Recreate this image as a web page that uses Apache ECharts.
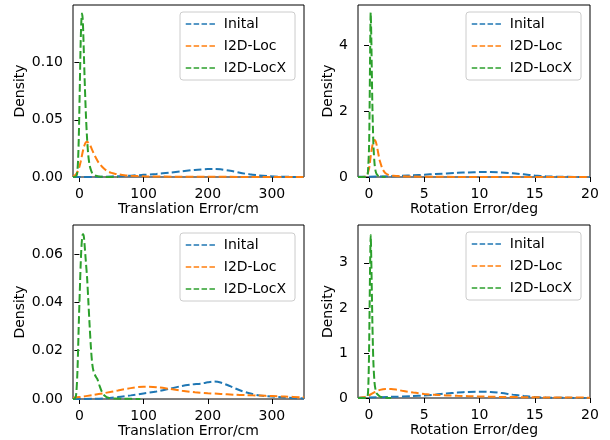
<!DOCTYPE html>
<html>
<head>
<meta charset="utf-8">
<script src="https://cdn.jsdelivr.net/npm/echarts@6/dist/echarts.min.js"></script>
<style>
html,body{margin:0;padding:0;background:#fff;}
#c{width:610px;height:440px;}
</style>
</head>
<body>
<div id="c"></div>
<script>
// ---- data ([x, density]) ----
const seriesNames = ["Inital", "I2D-Loc", "I2D-LocX"];

// Top-left: translation (set 1)
const tlInit = [[-10,0],[20,0.0001],[40,0.0003],[60,0.0007],[80,0.0012],[100,0.0019],[120,0.0027],[140,0.0038],[160,0.005],[180,0.0062],[200,0.0069],[210,0.007],[220,0.0067],[235,0.0055],[250,0.0037],[265,0.0024],[280,0.0014],[295,0.0007],[310,0.0003],[330,0.0001],[350,0]];
const tlLoc = [[-10,0.0003],[-8,0.001],[-6,0.002],[-4,0.0035],[-2,0.0058],[0,0.009],[2,0.0135],[4,0.019],[6,0.024],[8,0.028],[10,0.0302],[12,0.0308],[14,0.030],[16,0.0285],[18,0.0262],[20,0.0235],[25,0.0175],[30,0.0125],[35,0.0092],[40,0.0065],[45,0.0047],[50,0.0036],[55,0.0029],[60,0.0024],[70,0.0016],[80,0.0011],[100,0.0006],[150,0.0003],[200,0.0002],[250,0.0001],[350,0]];
const tlLocX = [[-10,0],[-6,0.0003],[-4,0.002],[-3,0.006],[-2,0.016],[-1,0.034],[0,0.061],[1,0.091],[2,0.119],[3,0.136],[4,0.143],[5,0.139],[6,0.126],[7,0.107],[8,0.088],[10,0.056],[12,0.033],[14,0.018],[16,0.01],[18,0.006],[20,0.0035],[24,0.0015],[30,0.0005],[40,0.0001],[60,0]];

// Top-right: rotation (set 1)
const trInit = [[-1,0.004],[0,0.008],[2,0.025],[3,0.035],[4,0.05],[5,0.07],[6,0.09],[8,0.125],[9,0.14],[10,0.148],[11,0.148],[12,0.138],[13,0.115],[14,0.08],[15,0.045],[16,0.02],[17,0.009],[18,0.004],[20,0.001]];
const trLoc = [[-1,0],[-0.4,0.01],[-0.2,0.06],[0,0.25],[0.1,0.5],[0.2,0.75],[0.3,0.95],[0.4,1.08],[0.5,1.12],[0.6,1.08],[0.7,0.95],[0.8,0.78],[0.9,0.6],[1.0,0.46],[1.2,0.26],[1.4,0.15],[1.6,0.09],[1.8,0.06],[2.2,0.035],[3,0.02],[4,0.012],[6,0.006],[10,0.002],[20,0]];
const trLocX = [[-1,0],[-0.3,0],[-0.15,0.05],[-0.1,0.15],[0,0.9],[0.05,2.1],[0.1,3.8],[0.15,4.98],[0.2,4.3],[0.25,3.2],[0.3,2.2],[0.35,1.5],[0.4,0.95],[0.5,0.4],[0.6,0.17],[0.7,0.08],[0.85,0.03],[1.0,0.01],[1.5,0]];

// Bottom-left: translation (set 2)
const blInit = [[-10,0],[20,0.0001],[40,0.0003],[60,0.0008],[80,0.0015],[100,0.0023],[120,0.0031],[140,0.0042],[160,0.0054],[175,0.006],[190,0.0064],[200,0.0069],[210,0.0072],[220,0.0068],[235,0.0053],[250,0.0036],[265,0.0024],[280,0.0015],[300,0.001],[320,0.0006],[350,0.0002]];
const blLoc = [[-10,0.0005],[0,0.0008],[20,0.0016],[40,0.0025],[60,0.0035],[80,0.0045],[100,0.0051],[120,0.0049],[140,0.0042],[160,0.0034],[180,0.0028],[200,0.0024],[220,0.0021],[240,0.0018],[260,0.0016],[280,0.0014],[300,0.0012],[320,0.001],[350,0.0007]];
const blLocX = [[-10,0],[-7,0.0002],[-5,0.002],[-3,0.012],[-1,0.031],[1,0.048],[2,0.056],[3,0.062],[4,0.066],[5,0.068],[6,0.0682],[7,0.067],[8,0.064],[10,0.057],[12,0.05],[14,0.04],[16,0.03],[18,0.021],[20,0.0145],[22,0.0115],[25,0.0095],[28,0.0082],[31,0.0058],[35,0.003],[40,0.0012],[45,0.0005],[55,0.0002],[70,0.0001],[95,0]];

// Bottom-right: rotation (set 2)
const brInit = [[-1,0.005],[0,0.012],[2,0.025],[4,0.042],[5,0.055],[6,0.075],[7,0.1],[8,0.12],[9,0.135],[10,0.14],[11,0.135],[12,0.11],[13,0.075],[14,0.045],[15,0.022],[16,0.01],[18,0.003],[20,0.001]];
const brLoc = [[-1,0.002],[-0.5,0.015],[-0.2,0.04],[0,0.06],[0.5,0.13],[1,0.18],[1.5,0.2],[2,0.2],[2.5,0.185],[3,0.16],[4,0.12],[5,0.09],[6,0.07],[7,0.058],[8,0.048],[9,0.04],[10,0.033],[11,0.028],[12,0.024],[14,0.018],[16,0.013],[18,0.01],[20,0.008]];
const brLocX = [[-1,0],[-0.25,0],[-0.12,0.05],[-0.05,0.4],[0,1.0],[0.05,2.0],[0.1,3.0],[0.15,3.62],[0.2,3.1],[0.25,2.4],[0.3,1.7],[0.35,1.15],[0.4,0.75],[0.5,0.33],[0.6,0.17],[0.7,0.1],[0.85,0.06],[1.0,0.03],[1.3,0.01],[2,0]];

// ---- axes ticks / ranges ----
const transXTicks = [0, 100, 200, 300];
const rotXTicks = [0, 5, 10, 15, 20];
const tlYTicks = [0, 0.05, 0.10];
const trYTicks = [0, 2, 4];
const blYTicks = [0, 0.02, 0.04, 0.06];
const brYTicks = [0, 1, 2, 3];
const transXRange = [-10, 350];
const rotXRange = [-1, 20];
const yMax = [0.1505, 5.21, 0.072, 3.84];
const xTitles = ["Translation Error/cm", "Rotation Error/deg", "Translation Error/cm", "Rotation Error/deg"];
const yTitle = "Density";

const panelData = [[tlInit, tlLoc, tlLocX],[trInit, trLoc, trLocX],[blInit, blLoc, blLocX],[brInit, brLoc, brLocX]];
const colors = ["#1f77b4", "#ff7f0e", "#2ca02c"];
const FONT = "DejaVu Sans";

const grids = [
  {left: 73, top: 5, width: 231, height: 172},
  {left: 358, top: 5, width: 232, height: 172},
  {left: 73, top: 225, width: 231, height: 174},
  {left: 358, top: 225, width: 232, height: 173}
];
const legendPos = [[180, 12], [466, 12], [180, 233], [466, 232]];
const xTickSets = [transXTicks, rotXTicks, transXTicks, rotXTicks];
const xRanges = [transXRange, rotXRange, transXRange, rotXRange];
const yTickSets = [tlYTicks, trYTicks, blYTicks, brYTicks];
const yFmt = [v => v.toFixed(2), v => String(Math.round(v)), v => v.toFixed(2), v => String(Math.round(v))];

const option = {
  animation: false,
  backgroundColor: "#fff",
  textStyle: {fontFamily: FONT},
  grid: grids.map(g => Object.assign({show: true, borderColor: "#000", borderWidth: 1, backgroundColor: "transparent", containLabel: false}, g)),
  xAxis: grids.map((g, i) => ({
    type: "value", gridIndex: i, min: xRanges[i][0], max: xRanges[i][1],
    name: xTitles[i], nameLocation: "middle", nameGap: 25,
    nameTextStyle: {fontFamily: FONT, fontSize: 14, color: "#000"},
    axisLine: {show: false},
    axisTick: {show: true, length: 5, inside: false, customValues: xTickSets[i], lineStyle: {color: "#000", width: 1}},
    axisLabel: {show: true, margin: 10, customValues: xTickSets[i], fontFamily: FONT, fontSize: 14, color: "#000", formatter: v => String(v)},
    splitLine: {show: false}
  })),
  yAxis: grids.map((g, i) => ({
    type: "value", gridIndex: i, min: 0, max: yMax[i],
    name: yTitle, nameLocation: "middle", nameGap: i % 2 === 0 ? 46 : 21, nameRotate: 90,
    nameTextStyle: {fontFamily: FONT, fontSize: 14, color: "#000"},
    axisLine: {show: false},
    axisTick: {show: true, length: 5, inside: false, customValues: yTickSets[i], lineStyle: {color: "#000", width: 1}},
    axisLabel: {show: true, margin: 10, customValues: yTickSets[i], fontFamily: FONT, fontSize: 14, color: "#000", formatter: yFmt[i]},
    splitLine: {show: false}
  })),
  legend: legendPos.map(p => ({
    data: seriesNames, orient: "vertical", left: p[0], top: p[1],
    itemWidth: 30, itemHeight: 14, itemGap: 8,
    padding: [5, 9, 5, 5],
    borderColor: "#cccccc", borderWidth: 1, borderRadius: 3,
    backgroundColor: "rgba(255,255,255,0.8)",
    selectedMode: false,
    textStyle: {fontFamily: FONT, fontSize: 14, color: "#000", padding: [0, 0, 0, 3]},
    itemStyle: {opacity: 0},
    lineStyle: {width: 1.5, type: [5.5, 2.4]}
  })),
  series: []
};

panelData.forEach((sets, i) => {
  sets.forEach((d, k) => {
    option.series.push({
      type: "line", name: seriesNames[k], xAxisIndex: i, yAxisIndex: i,
      data: d, showSymbol: false, symbol: "none", smooth: 0.3,
      color: colors[k],
      lineStyle: {color: colors[k], width: 2, type: [7.7, 3.3]},
      clip: true, z: 2
    });
  });
});

const chart = echarts.init(document.getElementById("c"), null, {renderer: "canvas"});
chart.setOption(option);
</script>
</body>
</html>
